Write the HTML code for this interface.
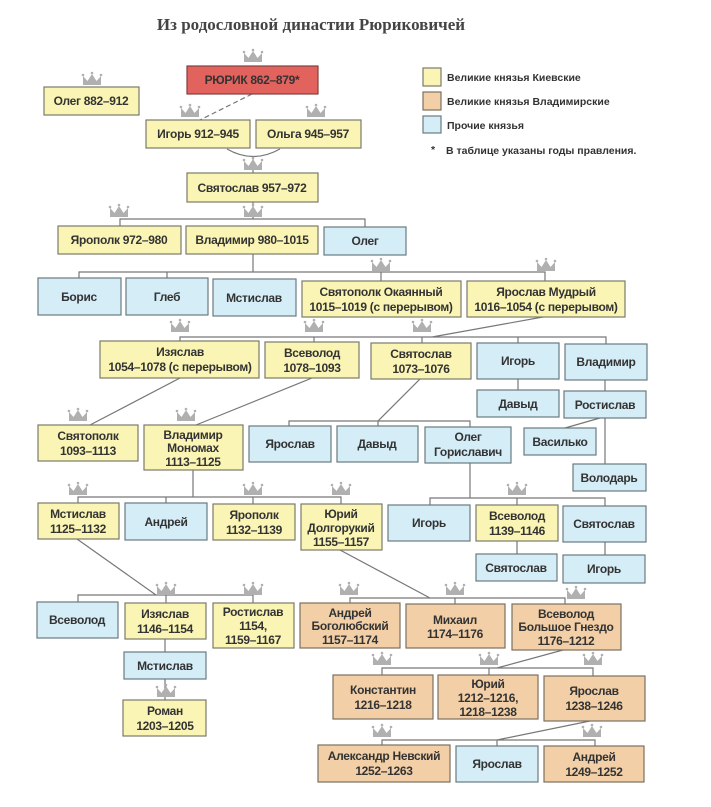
<!DOCTYPE html>
<html><head><meta charset="utf-8"><style>
html,body{margin:0;padding:0;background:#fff;}
svg{display:block;}
text{font-family:"Liberation Sans",sans-serif;font-weight:bold;font-size:12px;letter-spacing:-0.3px;fill:#333;}
.t{font-family:"Liberation Serif",serif;font-size:17px;fill:#444;letter-spacing:0;}
.lg{font-family:"Liberation Sans",sans-serif;font-size:10.5px;fill:#333;letter-spacing:0;}
.y{fill:#faf5b4;stroke:#7a7a6a;stroke-width:1.2}
.o{fill:#f2cfa6;stroke:#7a7060;stroke-width:1.2}
.b{fill:#d5edf7;stroke:#6a7a80;stroke-width:1.2}
.r{fill:#e2625e;stroke:#804040;stroke-width:1.2}
.l{stroke:#777;stroke-width:1.2;fill:none}
.c{fill:#b0b0b0}
</style></head><body>
<svg width="711" height="807" viewBox="0 0 711 807" xmlns="http://www.w3.org/2000/svg">
<defs><g id="cr"><path class="c" d="M-9,6 L-9,-3 L-4.5,2 L0,-5 L4.5,2 L9,-3 L9,6 Z"/><circle class="c" cx="-9" cy="-4" r="1.3"/><circle class="c" cx="0" cy="-6" r="1.3"/><circle class="c" cx="9" cy="-4" r="1.3"/></g></defs>
<text class="t" x="311" y="30" text-anchor="middle">Из родословной династии Рюриковичей</text>
<rect class="y" x="423" y="68" width="18" height="18"/><text class="lg" x="447" y="81">Великие князья Киевские</text>
<rect class="o" x="423" y="92" width="18" height="18"/><text class="lg" x="447" y="105">Великие князья Владимирские</text>
<rect class="b" x="423" y="116" width="18" height="17"/><text class="lg" x="447" y="129">Прочие князья</text>
<text class="lg" x="431" y="153">*</text><text class="lg" x="446" y="154">В таблице указаны годы правления.</text>
<line class="l" x1="252" y1="94" x2="200" y2="120" stroke-dasharray="5,3"/>
<path class="l" d="M227,149 Q253,164 280,149"/>
<line class="l" x1="253" y1="157" x2="253" y2="173"/>
<path class="l" d="M253,202 V219 M120,226 V219 H365 V227"/>
<path class="l" d="M253,254 V272 M79,278 V272 H545 V281 M167,272 V278 M381,272 V281"/>
<path class="l" d="M543,317 L432,337 M180,341 V337 H606 V344 M314,337 V342 M422,337 V343 M518,337 V343"/>
<path class="l" d="M518,379 V390 M605,380 V464 M600,418 L565,428"/>
<path class="l" d="M180,378 L90,425 M312,378 L196,425 M420,379 L378,421 M289,426 V421 H470 V427 M378,421 V426"/>
<path class="l" d="M193,470 V497 M78,503 V497 H341 V504 M166,497 V503 M253,497 V504"/>
<path class="l" d="M470,463 V498 M430,505 V498 H605 V506 M517,498 V505 M517,541 V554 M605,542 V555"/>
<path class="l" d="M77,539 L156,595 M78,602 V595 H253 V603 M166,595 V603 M165,639 V652 M165,679 V700"/>
<path class="l" d="M340,550 L430,598 M350,603 V598 H565 V604 M455,598 V604"/>
<path class="l" d="M563,650 L497,668 M382,675 V668 H593 V676 M489,668 V675"/>
<path class="l" d="M590,721 L497,740 M382,745 V740 H595 V746 M497,740 V746"/>
<use href="#cr" x="253" y="56"/><use href="#cr" x="92" y="79"/><use href="#cr" x="190" y="111"/><use href="#cr" x="316" y="111"/>
<use href="#cr" x="253" y="164"/><use href="#cr" x="119" y="211"/><use href="#cr" x="253" y="211"/>
<use href="#cr" x="381" y="265"/><use href="#cr" x="546" y="265"/>
<use href="#cr" x="180" y="326"/><use href="#cr" x="314" y="326"/><use href="#cr" x="422" y="326"/>
<use href="#cr" x="78" y="415"/><use href="#cr" x="186" y="415"/>
<use href="#cr" x="78" y="489"/><use href="#cr" x="253" y="489"/><use href="#cr" x="341" y="489"/><use href="#cr" x="517" y="489"/>
<use href="#cr" x="166" y="589"/><use href="#cr" x="253" y="589"/><use href="#cr" x="349" y="589"/><use href="#cr" x="455" y="589"/><use href="#cr" x="576" y="593"/>
<use href="#cr" x="166" y="691"/>
<use href="#cr" x="382" y="659"/><use href="#cr" x="489" y="659"/><use href="#cr" x="593" y="659"/>
<use href="#cr" x="382" y="731"/><use href="#cr" x="592" y="731"/>
<rect class="r" x="187" y="66" width="131" height="28"/><text x="252" y="84" text-anchor="middle">РЮРИК 862–879*</text>
<rect class="y" x="44" y="87" width="95" height="28"/><text x="91" y="105" text-anchor="middle">Олег 882–912</text>
<rect class="y" x="146" y="120" width="104" height="28"/><text x="198" y="138" text-anchor="middle">Игорь 912–945</text>
<rect class="y" x="256" y="120" width="105" height="28"/><text x="308" y="138" text-anchor="middle">Ольга 945–957</text>
<rect class="y" x="187" y="173" width="131" height="29"/><text x="252" y="192" text-anchor="middle">Святослав 957–972</text>
<rect class="y" x="58" y="226" width="123" height="28"/><text x="119" y="244" text-anchor="middle">Ярополк 972–980</text>
<rect class="y" x="186" y="226" width="132" height="28"/><text x="252" y="244" text-anchor="middle">Владимир 980–1015</text>
<rect class="b" x="324" y="227" width="82" height="28"/><text x="365" y="245" text-anchor="middle">Олег</text>
<rect class="b" x="38" y="278" width="83" height="37"/><text x="79" y="301" text-anchor="middle">Борис</text>
<rect class="b" x="126" y="278" width="82" height="37"/><text x="167" y="301" text-anchor="middle">Глеб</text>
<rect class="b" x="213" y="279" width="83" height="37"/><text x="254" y="302" text-anchor="middle">Мстислав</text>
<rect class="y" x="302" y="281" width="159" height="36"/><text x="381" y="296" text-anchor="middle">Святополк Окаянный</text><text x="381" y="311" text-anchor="middle">1015–1019 (с перерывом)</text>
<rect class="y" x="467" y="281" width="158" height="36"/><text x="546" y="296" text-anchor="middle">Ярослав Мудрый</text><text x="546" y="311" text-anchor="middle">1016–1054 (с перерывом)</text>
<rect class="y" x="100" y="341" width="159" height="37"/><text x="180" y="356" text-anchor="middle">Изяслав</text><text x="180" y="371" text-anchor="middle">1054–1078 (с перерывом)</text>
<rect class="y" x="265" y="342" width="94" height="36"/><text x="312" y="357" text-anchor="middle">Всеволод</text><text x="312" y="372" text-anchor="middle">1078–1093</text>
<rect class="y" x="371" y="343" width="100" height="36"/><text x="421" y="358" text-anchor="middle">Святослав</text><text x="421" y="373" text-anchor="middle">1073–1076</text>
<rect class="b" x="477" y="343" width="82" height="36"/><text x="518" y="365" text-anchor="middle">Игорь</text>
<rect class="b" x="565" y="344" width="82" height="36"/><text x="606" y="366" text-anchor="middle">Владимир</text>
<rect class="b" x="477" y="390" width="82" height="27"/><text x="518" y="408" text-anchor="middle">Давыд</text>
<rect class="b" x="564" y="391" width="82" height="27"/><text x="605" y="409" text-anchor="middle">Ростислав</text>
<rect class="b" x="524" y="428" width="72" height="27"/><text x="560" y="446" text-anchor="middle">Василько</text>
<rect class="b" x="573" y="464" width="73" height="27"/><text x="609" y="482" text-anchor="middle">Володарь</text>
<rect class="y" x="38" y="425" width="100" height="36"/><text x="88" y="440" text-anchor="middle">Святополк</text><text x="88" y="455" text-anchor="middle">1093–1113</text>
<rect class="y" x="144" y="425" width="99" height="45"/><text x="193" y="439" text-anchor="middle">Владимир</text><text x="193" y="452" text-anchor="middle">Мономах</text><text x="193" y="466" text-anchor="middle">1113–1125</text>
<rect class="b" x="249" y="426" width="82" height="36"/><text x="290" y="448" text-anchor="middle">Ярослав</text>
<rect class="b" x="337" y="426" width="81" height="36"/><text x="377" y="448" text-anchor="middle">Давыд</text>
<rect class="b" x="425" y="427" width="86" height="36"/><text x="468" y="441" text-anchor="middle">Олег</text><text x="468" y="456" text-anchor="middle">Гориславич</text>
<rect class="y" x="38" y="503" width="81" height="36"/><text x="78" y="518" text-anchor="middle">Мстислав</text><text x="78" y="533" text-anchor="middle">1125–1132</text>
<rect class="b" x="125" y="503" width="82" height="37"/><text x="166" y="526" text-anchor="middle">Андрей</text>
<rect class="y" x="213" y="504" width="82" height="36"/><text x="254" y="519" text-anchor="middle">Ярополк</text><text x="254" y="534" text-anchor="middle">1132–1139</text>
<rect class="y" x="301" y="504" width="81" height="46"/><text x="341" y="518" text-anchor="middle">Юрий</text><text x="341" y="532" text-anchor="middle">Долгорукий</text><text x="341" y="546" text-anchor="middle">1155–1157</text>
<rect class="b" x="388" y="505" width="82" height="36"/><text x="429" y="527" text-anchor="middle">Игорь</text>
<rect class="y" x="476" y="505" width="82" height="36"/><text x="517" y="520" text-anchor="middle">Всеволод</text><text x="517" y="535" text-anchor="middle">1139–1146</text>
<rect class="b" x="563" y="506" width="83" height="36"/><text x="604" y="528" text-anchor="middle">Святослав</text>
<rect class="b" x="476" y="554" width="81" height="27"/><text x="516" y="572" text-anchor="middle">Святослав</text>
<rect class="b" x="563" y="555" width="82" height="28"/><text x="604" y="573" text-anchor="middle">Игорь</text>
<rect class="b" x="37" y="602" width="81" height="36"/><text x="77" y="624" text-anchor="middle">Всеволод</text>
<rect class="y" x="125" y="603" width="81" height="36"/><text x="165" y="618" text-anchor="middle">Изяслав</text><text x="165" y="633" text-anchor="middle">1146–1154</text>
<rect class="y" x="213" y="603" width="81" height="45"/><text x="253" y="616" text-anchor="middle">Ростислав</text><text x="253" y="630" text-anchor="middle">1154,</text><text x="253" y="644" text-anchor="middle">1159–1167</text>
<rect class="o" x="300" y="603" width="100" height="45"/><text x="350" y="617" text-anchor="middle">Андрей</text><text x="350" y="630" text-anchor="middle">Боголюбский</text><text x="350" y="644" text-anchor="middle">1157–1174</text>
<rect class="o" x="406" y="604" width="99" height="44"/><text x="455" y="624" text-anchor="middle">Михаил</text><text x="455" y="638" text-anchor="middle">1174–1176</text>
<rect class="o" x="512" y="604" width="109" height="46"/><text x="566" y="618" text-anchor="middle">Всеволод</text><text x="566" y="631" text-anchor="middle">Большое Гнездо</text><text x="566" y="645" text-anchor="middle">1176–1212</text>
<rect class="b" x="124" y="652" width="82" height="27"/><text x="165" y="670" text-anchor="middle">Мстислав</text>
<rect class="y" x="123" y="700" width="83" height="36"/><text x="165" y="715" text-anchor="middle">Роман</text><text x="165" y="730" text-anchor="middle">1203–1205</text>
<rect class="o" x="333" y="675" width="100" height="44"/><text x="383" y="694" text-anchor="middle">Константин</text><text x="383" y="709" text-anchor="middle">1216–1218</text>
<rect class="o" x="438" y="675" width="100" height="44"/><text x="488" y="688" text-anchor="middle">Юрий</text><text x="488" y="702" text-anchor="middle">1212–1216,</text><text x="488" y="716" text-anchor="middle">1218–1238</text>
<rect class="o" x="544" y="676" width="101" height="45"/><text x="594" y="695" text-anchor="middle">Ярослав</text><text x="594" y="710" text-anchor="middle">1238–1246</text>
<rect class="o" x="318" y="745" width="132" height="37"/><text x="384" y="760" text-anchor="middle">Александр Невский</text><text x="384" y="775" text-anchor="middle">1252–1263</text>
<rect class="b" x="456" y="746" width="82" height="36"/><text x="497" y="768" text-anchor="middle">Ярослав</text>
<rect class="o" x="544" y="746" width="100" height="36"/><text x="594" y="761" text-anchor="middle">Андрей</text><text x="594" y="776" text-anchor="middle">1249–1252</text>
</svg>
</body></html>
